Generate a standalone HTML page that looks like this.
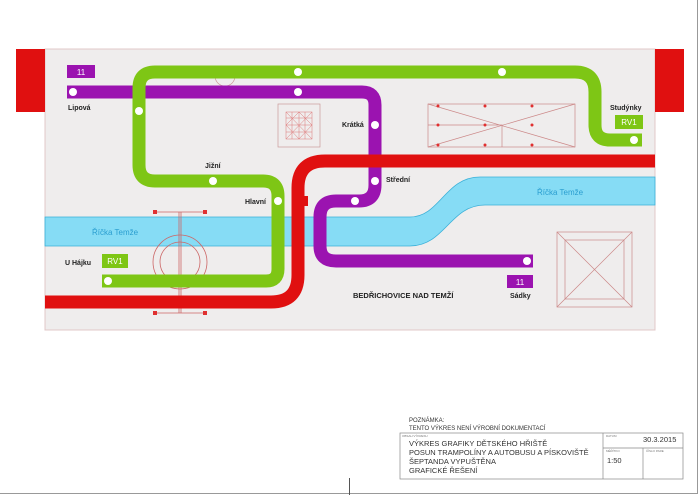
<!DOCTYPE html>
<html><head><meta charset="utf-8"><style>
html,body{margin:0;padding:0;background:#fff;}
svg{display:block;}
text{font-family:"Liberation Sans",sans-serif;}
</style></head><body>
<svg width="700" height="495" viewBox="0 0 700 495" xmlns="http://www.w3.org/2000/svg">
<rect x="0" y="0" width="700" height="495" fill="#fff"/>
<line x1="697.5" y1="0" x2="697.5" y2="493" stroke="#999" stroke-width="1"/>
<line x1="0" y1="493.5" x2="698" y2="493.5" stroke="#999" stroke-width="1"/>
<line x1="349.5" y1="478" x2="349.5" y2="495" stroke="#555" stroke-width="1"/>
<!-- map background -->
<rect x="45" y="49" width="610" height="281" fill="#efeded" stroke="#e0c8c8" stroke-width="1"/>
<rect x="16" y="49" width="29" height="63" fill="#e01010"/>
<rect x="655" y="49" width="29" height="63" fill="#e01010"/>
<!-- river -->
<path d="M45 217 H410 C440 217 445 177 480 177 H655 V205 H485 C450 205 445 246 410 246 H45 Z" fill="#86dcf5" stroke="#3ab0d8" stroke-width="0.8"/>
<text x="92" y="235" font-size="8" fill="#2a9ed0">Říčka Temže</text>
<text x="537" y="195" font-size="8" fill="#2a9ed0">Říčka Temže</text>
<!-- thin drawings -->
<circle cx="225" cy="76" r="10" fill="none" stroke="#c99" stroke-width="0.7"/>
<rect x="278" y="104" width="42" height="43" fill="none" stroke="#c99" stroke-width="0.7"/>
<g stroke="#d77" stroke-width="0.5" fill="none">
<rect x="286" y="112" width="26" height="27"/>
<path d="M286 118H312M286 125H312M286 132H312M292 112V139M299 112V139M305 112V139M286 112L312 139M312 112L286 139M286 125L299 112M299 139L312 125M286 125L299 139M299 112L312 125"/>
</g>
<g stroke="#c88" stroke-width="0.7" fill="none">
<rect x="428" y="104" width="147" height="43"/>
<path d="M428 104L575 147M428 147L575 104M428 125H502V147"/>
</g>
<g fill="#e03030">
<circle cx="438" cy="106" r="1.5"/><circle cx="485" cy="106" r="1.5"/><circle cx="532" cy="106" r="1.5"/>
<circle cx="438" cy="125" r="1.5"/><circle cx="485" cy="125" r="1.5"/><circle cx="532" cy="125" r="1.5"/>
<circle cx="438" cy="145" r="1.5"/><circle cx="485" cy="145" r="1.5"/><circle cx="532" cy="145" r="1.5"/>
</g>
<g stroke="#c88" stroke-width="0.7" fill="none">
<rect x="557" y="232" width="75" height="75"/>
<rect x="565" y="240" width="59" height="59"/>
<path d="M557 232L632 307M632 232L557 307"/>
</g>
<g stroke="#c66" stroke-width="0.8" fill="none">
<line x1="155" y1="212" x2="205" y2="212"/>
<line x1="155" y1="313" x2="205" y2="313"/>
<line x1="179" y1="212" x2="179" y2="313"/>
<line x1="181" y1="212" x2="181" y2="313"/>
<circle cx="180" cy="262" r="27"/>
<circle cx="180" cy="262" r="20"/>
</g>
<g fill="#e03030"><rect x="153" y="210" width="4" height="4"/><rect x="203" y="210" width="4" height="4"/><rect x="153" y="311" width="4" height="4"/><rect x="203" y="311" width="4" height="4"/></g>
<!-- lines -->
<g fill="none" stroke-width="13" stroke-linejoin="round">
<path d="M67 92 H362 Q375 92 375 105 V185 Q375 201 359 201 H336 Q320 201 320 217 V246 Q320 261 336 261 H533" stroke="#9b13b0"/>
<path d="M102 281 H266 Q278 281 278 269 V196 Q278 181 263 181 H155 Q139 181 139 165 V88 Q139 72 155 72 H575 Q595 72 595 92 V125 Q595 140 610 140 H642" stroke="#7ec615"/>
<path d="M655 161 H325 Q298 161 298 188 V275 Q298 302 271 302 H45" stroke="#e01010"/>
</g>
<rect x="302" y="196" width="6" height="10" fill="#e01010"/>
<g fill="#fff">
<circle cx="73" cy="92" r="4"/><circle cx="298" cy="92" r="4"/><circle cx="298" cy="72" r="4"/>
<circle cx="139" cy="111" r="4"/><circle cx="213" cy="181" r="4"/><circle cx="278" cy="201" r="4"/>
<circle cx="108" cy="281" r="4"/><circle cx="502" cy="72" r="4"/><circle cx="634" cy="140" r="4"/>
<circle cx="375" cy="125" r="4"/><circle cx="375" cy="181" r="4"/><circle cx="355" cy="201" r="4"/>
<circle cx="527" cy="261" r="4"/>
</g>
<!-- labels -->
<rect x="67" y="65" width="28" height="13" fill="#9b13b0"/><text x="81" y="75" font-size="8" fill="#fff" text-anchor="middle">11</text>
<rect x="507" y="275" width="26" height="13" fill="#9b13b0"/><text x="520" y="285" font-size="8" fill="#fff" text-anchor="middle">11</text>
<rect x="102" y="254" width="26" height="14" fill="#7ec615"/><text x="115" y="264" font-size="8" fill="#fff" text-anchor="middle">RV1</text>
<rect x="615" y="115" width="28" height="14" fill="#7ec615"/><text x="629" y="125" font-size="8" fill="#fff" text-anchor="middle">RV1</text>
<g font-size="7" font-weight="bold" fill="#222">
<text x="68" y="110">Lipová</text>
<text x="205" y="168">Jižní</text>
<text x="245" y="204">Hlavní</text>
<text x="65" y="265">U Hájku</text>
<text x="342" y="127">Krátká</text>
<text x="386" y="182">Střední</text>
<text x="610" y="110">Studýnky</text>
<text x="510" y="298">Sádky</text>
<text x="353" y="298" font-size="7.5">BEDŘICHOVICE NAD TEMŽÍ</text>
</g>
<!-- title block -->
<g font-size="6" fill="#333">
<text x="409" y="422">POZNÁMKA:</text>
<text x="409" y="430">TENTO VÝKRES NENÍ VÝROBNÍ DOKUMENTACÍ</text>
</g>
<g stroke="#888" stroke-width="0.7" fill="none">
<rect x="400" y="433" width="283" height="46"/>
<line x1="603" y1="433" x2="603" y2="479"/>
<line x1="643" y1="448" x2="643" y2="479"/>
<line x1="603" y1="448" x2="683" y2="448"/>
</g>
<g font-size="3" fill="#777"><text x="402" y="437">OBSAH VÝKRESU</text><text x="606" y="437">DATUM</text><text x="606" y="452">MĚŘÍTKO</text><text x="646" y="452">ČÍSLO PARE</text></g>
<g font-size="7.5" fill="#333">
<text x="409" y="446">VÝKRES GRAFIKY DĚTSKÉHO HŘIŠTĚ</text>
<text x="409" y="455">POSUN TRAMPOLÍNY A AUTOBUSU A PÍSKOVIŠTĚ</text>
<text x="409" y="464">ŠEPTANDA VYPUŠTĚNA</text>
<text x="409" y="473">GRAFICKÉ ŘEŠENÍ</text>
<text x="643" y="442">30.3.2015</text>
<text x="607" y="463">1:50</text>
</g>
</svg>
</body></html>
